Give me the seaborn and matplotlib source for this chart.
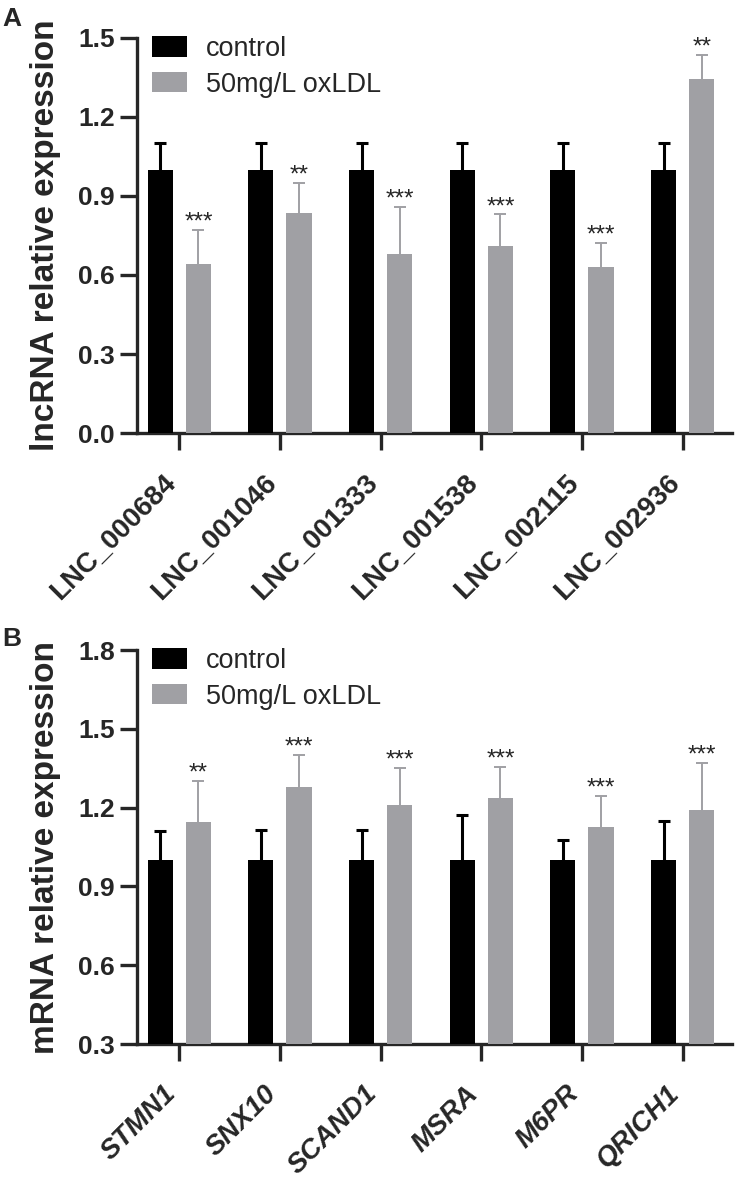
import numpy as np
import pandas as pd
import matplotlib
matplotlib.use("Agg")
import matplotlib.pyplot as plt
import matplotlib.transforms as mtransforms
import seaborn as sns

# panel A - lncRNA
lnc_names = ["LNC_000684", "LNC_001046", "LNC_001333", "LNC_001538", "LNC_002115", "LNC_002936"]
lnc_control = [1.0, 1.0, 1.0, 1.0, 1.0, 1.0]
lnc_control_err = [0.10, 0.10, 0.10, 0.10, 0.10, 0.10]
lnc_oxldl = [0.64, 0.835, 0.68, 0.71, 0.63, 1.345]
lnc_oxldl_err = [0.13, 0.115, 0.18, 0.12, 0.09, 0.09]
lnc_sig = ["***", "**", "***", "***", "***", "**"]

# panel B - mRNA
mrna_names = ["STMN1", "SNX10", "SCAND1", "MSRA", "M6PR", "QRICH1"]
mrna_control = [1.0, 1.0, 1.0, 1.0, 1.0, 1.0]
mrna_control_err = [0.11, 0.115, 0.115, 0.17, 0.075, 0.15]
mrna_oxldl = [1.145, 1.28, 1.21, 1.235, 1.125, 1.19]
mrna_oxldl_err = [0.155, 0.12, 0.14, 0.12, 0.12, 0.18]
mrna_sig = ["**", "***", "***", "***", "***", "***"]

groups = ["control", "50mg/L oxLDL"]
colors = {"control": "black", "50mg/L oxLDL": "#a0a0a4"}

sns.set_style("ticks")
plt.rcParams["font.family"] = ["Liberation Sans", "DejaVu Sans"]


def draw_panel(fig, ax, names, ctrl, ctrl_err, ox, ox_err, sig, ylim, ylabel, italic):
    df = pd.DataFrame({
        "gene": names * 2,
        "group": [groups[0]] * len(names) + [groups[1]] * len(names),
        "value": ctrl + ox,
    })
    sns.barplot(data=df, x="gene", y="value", hue="group", hue_order=groups,
                palette=colors, width=0.76, gap=0.34, linewidth=0,
                errorbar=None, ax=ax, zorder=3)

    errs = [ctrl_err, ox_err]
    vals = [ctrl, ox]
    bar_conts = list(ax.containers)
    for i, cont in enumerate(bar_conts):
        xs = [p.get_x() + p.get_width() / 2 for p in cont.patches]
        col = colors[groups[i]]
        lw = 2.2 if i == 0 else 1.4
        eb = ax.errorbar(xs, vals[i], yerr=[np.zeros(len(xs)), errs[i]], fmt="none",
                         ecolor=col, elinewidth=lw, capsize=4, capthick=lw, zorder=2)
        # only the upper cap is wanted
        for cap in eb[1]:
            if np.allclose(cap.get_ydata(), vals[i]):
                cap.set_visible(False)
        if i == 1:
            for x, v, e, s in zip(xs, vals[i], errs[i], sig):
                ax.annotate(s, (x, v + e), xytext=(0, 1), textcoords="offset points",
                            ha="center", va="baseline", fontsize=17.5)

    ax.set_ylim(*ylim)
    ax.set_yticks(np.round(np.arange(ylim[0], ylim[1] + 0.01, 0.3), 1))
    ax.set_xlim(-0.42, len(names) - 0.51)
    ax.set_xlabel("")
    ax.set_ylabel(ylabel, fontsize=24, fontweight="bold", labelpad=12)

    for side in ["top", "right"]:
        ax.spines[side].set_visible(False)
    for side in ["left", "bottom"]:
        ax.spines[side].set_linewidth(2.4)
    ax.tick_params(axis="both", length=12, width=2.4, labelsize=19)
    ax.tick_params(axis="y", pad=4)
    ax.tick_params(axis="x", pad=21)
    for lab in ax.get_yticklabels():
        lab.set_fontweight("bold")
    ax.set_xticks(range(len(names)))
    ax.set_xticklabels(names, rotation=45, ha="right", va="center",
                       rotation_mode="anchor", fontweight="bold", fontsize=20,
                       fontstyle="italic" if italic else "normal")
    shift = mtransforms.ScaledTranslation(-7 / 100, 0, fig.dpi_scale_trans)
    for lab in ax.get_xticklabels():
        lab.set_transform(lab.get_transform() + shift)

    handles, labels = ax.get_legend_handles_labels()
    ax.legend(handles, labels, loc="upper left", bbox_to_anchor=(0.025, 1.005),
              frameon=False, fontsize=19.5, handlelength=1.3, handleheight=0.8,
              handletextpad=0.7, labelspacing=0.35, borderpad=0, borderaxespad=0)


fig = plt.figure(figsize=(7.39, 11.8), dpi=100)
ax_a = fig.add_axes([0.1854, 0.63305, 0.8051, 0.33475])
ax_b = fig.add_axes([0.1854, 0.11525, 0.8051, 0.3339])

draw_panel(fig, ax_a, lnc_names, lnc_control, lnc_control_err, lnc_oxldl, lnc_oxldl_err,
           lnc_sig, (0.0, 1.5), "lncRNA relative expression", False)
draw_panel(fig, ax_b, mrna_names, mrna_control, mrna_control_err, mrna_oxldl, mrna_oxldl_err,
           mrna_sig, (0.3, 1.8), "mRNA relative expression", True)

fig.text(0.003, 0.994, "A", fontsize=19, fontweight="bold", va="top")
fig.text(0.003, 0.469, "B", fontsize=19, fontweight="bold", va="top")

fig.savefig("out.png", dpi=100)
